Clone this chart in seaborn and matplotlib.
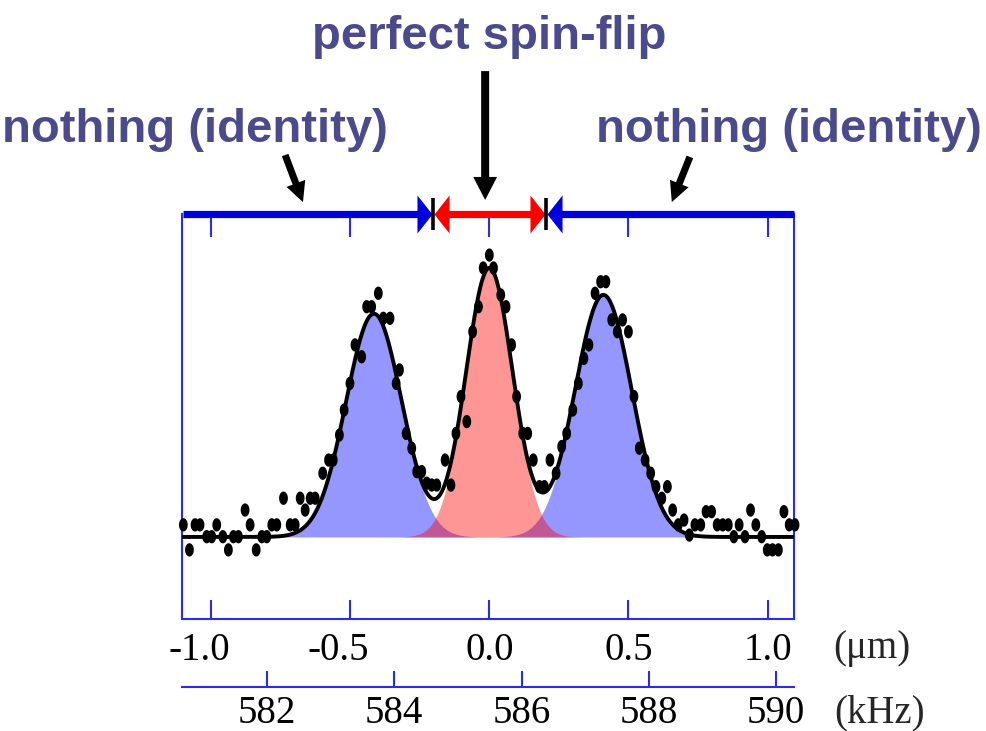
import numpy as np
import pandas as pd
import matplotlib
matplotlib.use("Agg")
import matplotlib.pyplot as plt
import seaborn as sns

# ---- measured spectrum: position (µm) and normalised signal ----
pos_um = [
    -1.100, -1.078, -1.058, -1.040, -1.016, -0.998, -0.980, -0.958, -0.938, -0.920,
    -0.902, -0.878, -0.860, -0.838, -0.818, -0.800, -0.782, -0.764, -0.740, -0.716,
    -0.698, -0.680, -0.662, -0.644, -0.626, -0.599, -0.578, -0.561, -0.539, -0.522,
    -0.501, -0.483, -0.459, -0.441, -0.423, -0.399, -0.381, -0.357, -0.335, -0.323,
    -0.299, -0.279, -0.261, -0.243, -0.225, -0.207, -0.189, -0.159, -0.138, -0.120,
    -0.102, -0.081, -0.060, -0.039, -0.022, 0.000, 0.015, 0.041, 0.060, 0.080,
    0.098, 0.120, 0.138, 0.158, 0.180, 0.198, 0.218, 0.240, 0.260, 0.278,
    0.300, 0.320, 0.340, 0.358, 0.380, 0.400, 0.419, 0.440, 0.460, 0.479,
    0.500, 0.520, 0.539, 0.560, 0.580, 0.599, 0.620, 0.640, 0.659, 0.679,
    0.700, 0.719, 0.739, 0.760, 0.779, 0.799, 0.819, 0.839, 0.859, 0.879,
    0.898, 0.919, 0.939, 0.958, 0.979, 0.999, 1.018, 1.039, 1.059, 1.078, 1.099,
]
signal = [
    0.045, -0.048, 0.045, 0.045, 0.001, 0.001, 0.045, 0.001, -0.048, 0.001,
    0.001, 0.100, 0.045, -0.048, 0.001, 0.001, 0.045, 0.045, 0.144, 0.045,
    0.045, 0.144, 0.100, 0.144, 0.144, 0.237, 0.286, 0.286, 0.379, 0.472,
    0.571, 0.714, 0.670, 0.856, 0.856, 0.906, 0.813, 0.813, 0.571, 0.621,
    0.385, 0.330, 0.243, 0.243, 0.200, 0.193, 0.193, 0.286, 0.193, 0.385,
    0.522, 0.429, 0.763, 0.856, 1.000, 1.048, 1.000, 0.900, 0.856, 0.714,
    0.522, 0.385, 0.385, 0.286, 0.187, 0.187, 0.286, 0.237, 0.336, 0.385,
    0.472, 0.571, 0.664, 0.714, 0.906, 0.949, 0.949, 0.807, 0.763, 0.807,
    0.763, 0.522, 0.330, 0.286, 0.237, 0.187, 0.144, 0.187, 0.100, 0.045,
    0.063, 0.007, 0.045, 0.045, 0.094, 0.094, 0.045, 0.045, 0.045, 0.001,
    0.045, 0.001, 0.100, 0.045, 0.001, -0.048, -0.048, -0.048, 0.094, 0.045, 0.045,
]

# ---- Gaussian fit components: left sideband, carrier, right sideband ----
peak_center = [-0.415, 0.0, 0.410]
peak_amp = [0.83, 1.00, 0.90]
peak_sigma = [0.100, 0.084, 0.102]
peak_color = ["#0000ff", "#ff0000", "#0000ff"]

# ---- axes ----
um_ticks = [-1.0, -0.5, 0.0, 0.5, 1.0]
um_labels = ["-1.0", "-0.5", "0.0", "0.5", "1.0"]
khz_ticks = [582, 584, 586, 588, 590]
khz_labels = ["582", "584", "586", "588", "590"]
khz_at_zero_um = 585.494      # frequency scale: f = f0 + slope * x
khz_per_um = 4.373
flip_edges = [-0.203, 0.203]  # boundaries of the spin-flip window (µm)

TITLE_COLOR = "#4a4a8c"
AXIS_BLUE = "#2b2bea"
BAR_BLUE = "#0000dd"
TICK_FS = 28

sns.set_style("white")
plt.rcParams["font.family"] = ["Liberation Serif", "DejaVu Serif"]
plt.rcParams["axes.unicode_minus"] = False

W, H = 987, 731
fig = plt.figure(figsize=(W / 100, H / 100), dpi=100)
ax_l, ax_r, ax_t, ax_b = 182.5, 794.5, 213.5, 619.0
ax = fig.add_axes([ax_l / W, 1 - ax_b / H, (ax_r - ax_l) / W, (ax_b - ax_t) / H])
ax.set_xlim(-1.103, 1.097)
ax.set_ylim(-0.305, 1.2026)

# Gaussian components and total fit
xs = np.linspace(-1.103, 1.097, 1200)
comps = [a * np.exp(-(xs - c) ** 2 / (2 * s ** 2))
         for a, c, s in zip(peak_amp, peak_center, peak_sigma)]
for comp, col in zip([comps[0], comps[2], comps[1]],
                     [peak_color[0], peak_color[2], peak_color[1]]):
    ax.fill_between(xs, 0, comp, color=col, alpha=0.41, lw=0, zorder=1)
fit = pd.DataFrame({"x": xs, "y": np.sum(comps, axis=0)})
sns.lineplot(data=fit, x="x", y="y", color="black", lw=2.8, ax=ax, zorder=3)

# data points
pts = pd.DataFrame({"x": pos_um, "y": signal})
t = np.linspace(0, 2 * np.pi, 40)
ellipse = np.column_stack([0.66 * np.cos(t), np.sin(t)])
sns.scatterplot(data=pts, x="x", y="y", marker=ellipse, s=92, color="black",
                linewidth=0, edgecolor="none", ax=ax, zorder=4, clip_on=False)

ax.set_xlabel("")
ax.set_ylabel("")
ax.set_yticks([])
ax.set_xticks(um_ticks)
ax.set_xticklabels(um_labels)
ax.tick_params(axis="x", direction="in", top=True, bottom=True, length=13.7,
               width=1.5, color=AXIS_BLUE, pad=9, labelsize=TICK_FS,
               labelcolor="black")
for tk in ax.xaxis.get_major_ticks():
    tk.tick2line.set_markersize(16.2)
for lbl in ax.get_xticklabels():
    if lbl.get_text().startswith("-"):
        lbl.set_transform(lbl.get_transform() +
                          matplotlib.transforms.ScaledTranslation(-12 / 100, 0, fig.dpi_scale_trans))
for side in ["left", "right", "bottom"]:
    ax.spines[side].set_color(AXIS_BLUE)
    ax.spines[side].set_linewidth(1.5)
ax.spines["top"].set_visible(False)

# frequency axis underneath
loc = -(687 - ax_b) / (ax_b - ax_t)
secax = ax.secondary_xaxis(
    loc,
    functions=(lambda x: khz_at_zero_um + khz_per_um * x,
               lambda f: (f - khz_at_zero_um) / khz_per_um))
secax.set_xticks(khz_ticks, labels=khz_labels)
secax.tick_params(axis="x", direction="in", length=11.5, width=1.5,
                  color=AXIS_BLUE, pad=6, labelsize=TICK_FS, labelcolor="black")
secax.spines["bottom"].set_color(AXIS_BLUE)
secax.spines["bottom"].set_linewidth(1.5)

fig.text(833 / W, 1 - 658 / H, "(\u03bcm)", fontsize=TICK_FS, ha="left", va="baseline")
fig.text(834 / W, 1 - 722 / H, "(kHz)", fontsize=TICK_FS, ha="left", va="baseline")

# ---- top bar: identity region (blue) / spin-flip window (red) ----
um_per_px = (1.103 + 1.097) / (ax_r - ax_l)
head = 15 * um_per_px
tr = ax.get_xaxis_transform()
x0, x1 = ax.get_xlim()
eL, eR = flip_edges
seg = dict(transform=tr, lw=5.2, solid_capstyle="butt", clip_on=False, zorder=6)
ax.plot([x0, eL - head], [1, 1], color=BAR_BLUE, **seg)
ax.plot([eL + head, eR - head], [1, 1], color="#ff0000", **seg)
ax.plot([eR + head, x1], [1, 1], color=BAR_BLUE, **seg)
right_head = np.array([[0, 0], [-15, 19], [-15, -19], [0, 0]])
left_head = np.array([[0, 0], [15, 19], [15, -19], [0, 0]])
hk = dict(transform=tr, ms=27.4, mew=0, ls="none", clip_on=False, zorder=7)
ax.plot([eL - 0.004], [1], marker=right_head, color=BAR_BLUE, **hk)
ax.plot([eL + 0.004], [1], marker=left_head, color="#ff0000", **hk)
ax.plot([eR - 0.004], [1], marker=right_head, color="#ff0000", **hk)
ax.plot([eR + 0.004], [1], marker=left_head, color=BAR_BLUE, **hk)
for e in flip_edges:
    ax.plot([e], [1], marker="|", ms=23, mew=2.6, color="black",
            transform=tr, clip_on=False, zorder=8)

# ---- labels with pointer arrows ----
tfont = dict(family=["Liberation Sans", "DejaVu Sans"], weight="bold",
             fontsize=34, color=TITLE_COLOR, ha="center", va="baseline")
fig.text(489 / W, 1 - 49 / H, "perfect spin-flip", **tfont)
fig.text(195 / W, 1 - 142 / H, "nothing (identity)", **tfont)
fig.text(789 / W, 1 - 142 / H, "nothing (identity)", **tfont)

big = dict(arrowstyle="simple,head_length=0.414,head_width=0.43,tail_width=0.144",
           mutation_scale=40, color="black", lw=0, shrinkA=0, shrinkB=0)
small = dict(arrowstyle="simple,head_length=0.36,head_width=0.36,tail_width=0.126",
             mutation_scale=40, color="black", lw=0, shrinkA=0, shrinkB=0)
ax.annotate("", xy=(-0.015, 1.253), xytext=(-0.015, 1.732),
            arrowprops=big, annotation_clip=False)
ax.annotate("", xy=(-0.670, 1.245), xytext=(-0.734, 1.420),
            arrowprops=small, annotation_clip=False)
ax.annotate("", xy=(0.656, 1.245), xytext=(0.721, 1.413),
            arrowprops=small, annotation_clip=False)

fig.savefig("out.png", dpi=100)
